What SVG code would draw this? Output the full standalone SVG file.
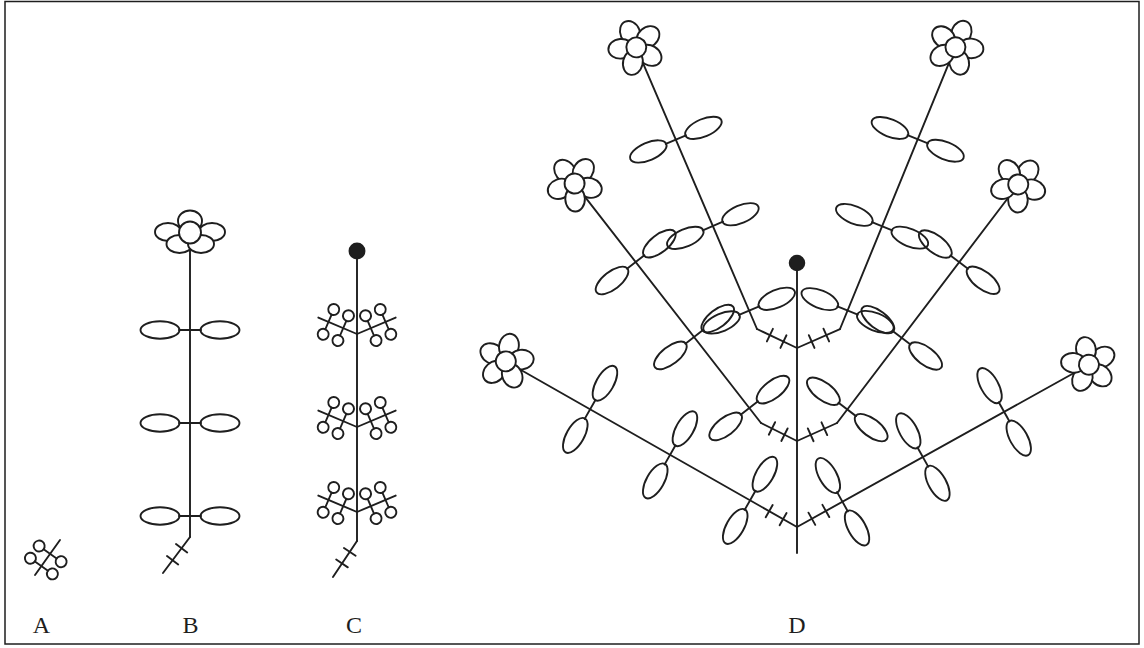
<svg xmlns="http://www.w3.org/2000/svg" xmlns:xlink="http://www.w3.org/1999/xlink" width="1144" height="648" viewBox="0 0 1144 648">
<style>
.ln{fill:none;stroke:#1e1e1e;stroke-width:1.9;stroke-linecap:round;stroke-linejoin:round}
.lb{font-family:"Liberation Serif","DejaVu Serif",serif;font-size:24px;fill:#1e1e1e;text-anchor:middle}
</style>
<defs>
  <g id="lp">
    <line x1="0" y1="-11" x2="0" y2="11"/>
    <ellipse cx="0" cy="-30" rx="8.8" ry="19.5" fill="none"/>
    <ellipse cx="0" cy="30" rx="8.8" ry="19.5" fill="none"/>
  </g>
  <g id="fl">
    <ellipse cx="15.5" cy="0" rx="12.5" ry="9.8" transform="rotate(-90)" fill="#fff"/>
    <ellipse cx="15.5" cy="0" rx="12.5" ry="9.8" transform="rotate(-18)" fill="#fff"/>
    <ellipse cx="15.5" cy="0" rx="12.5" ry="9.8" transform="rotate(198)" fill="#fff"/>
    <ellipse cx="15.5" cy="0" rx="12.5" ry="9.8" transform="rotate(54)" fill="#fff"/>
    <ellipse cx="15.5" cy="0" rx="12.5" ry="9.8" transform="rotate(126)" fill="#fff"/>
    <circle cx="0" cy="0" r="10" fill="#fff"/>
  </g>
  <g id="cp">
    <line x1="0" y1="-8" x2="0" y2="8"/>
    <circle cx="0" cy="-13.5" r="5.5" fill="none"/>
    <circle cx="0" cy="13.5" r="5.5" fill="none"/>
  </g>
  <line id="tk" x1="0" y1="-7" x2="0" y2="7"/>
  <g id="cw">
    <g transform="rotate(203)"><line x1="0" y1="0" x2="42" y2="0"/><use href="#cp" x="15"/><use href="#cp" x="31"/></g>
    <g transform="rotate(-23)"><line x1="0" y1="0" x2="42" y2="0"/><use href="#cp" x="15"/><use href="#cp" x="31"/></g>
  </g>
</defs>

<rect x="5" y="1.5" width="1134" height="642.5" fill="#fff" stroke="#1e1e1e" stroke-width="1.5"/>

<g id="fig-A" class="ln" transform="translate(60,540) rotate(125.5)">
  <line x1="0" y1="0" x2="43" y2="0"/>
  <use href="#cp" x="17"/>
  <use href="#cp" x="32"/>
</g>

<g id="fig-B" class="ln">
  <line x1="190" y1="245" x2="190" y2="537"/>
  <use href="#lp" transform="translate(190,330) rotate(90)"/>
  <use href="#lp" transform="translate(190,423) rotate(90)"/>
  <use href="#lp" transform="translate(190,516) rotate(90)"/>
  <g transform="translate(190,537) rotate(126.9)">
    <line x1="0" y1="0" x2="45" y2="0"/>
    <use href="#tk" x="14"/>
    <use href="#tk" x="29"/>
  </g>
  <g id="B-flower" fill="#fff">
    <ellipse cx="168" cy="232" rx="13" ry="9"/>
    <ellipse cx="212" cy="232" rx="13" ry="9"/>
    <ellipse cx="190" cy="221" rx="12" ry="10.5"/>
    <ellipse cx="179.5" cy="244" rx="13" ry="9"/>
    <ellipse cx="201" cy="244" rx="13" ry="9"/>
    <circle cx="190" cy="232.5" r="11"/>
  </g>
</g>

<g id="fig-C" class="ln">
  <line x1="357" y1="251" x2="357" y2="541"/>
  <circle cx="357" cy="251" r="7.5" fill="#1e1e1e"/>
  <use href="#cw" x="357" y="334"/>
  <use href="#cw" x="357" y="427"/>
  <use href="#cw" x="357" y="512"/>
  <g transform="translate(357,541) rotate(123.7)">
    <line x1="0" y1="0" x2="43.3" y2="0"/>
    <use href="#tk" x="13"/>
    <use href="#tk" x="27"/>
  </g>
</g>

<g id="fig-D" class="ln">
  <g id="D-axis">
    <line x1="797" y1="263" x2="797" y2="553"/>
    <circle cx="797" cy="263" r="7.3" fill="#1e1e1e"/>
  </g>
  <g id="D-top-V">
    <g transform="translate(797,348) rotate(205.4)"><line x1="0" y1="0" x2="44.3" y2="0"/><use href="#tk" x="15"/><use href="#tk" x="30"/></g>
    <g transform="translate(797,348) rotate(-23.8)"><line x1="0" y1="0" x2="47" y2="0"/><use href="#tk" x="16"/><use href="#tk" x="32"/></g>
  </g>
  <g id="D-mid-V">
    <g transform="translate(797,441) rotate(206.6)"><line x1="0" y1="0" x2="40.2" y2="0"/><use href="#tk" x="14"/><use href="#tk" x="28"/></g>
    <g transform="translate(797,441) rotate(-24.2)"><line x1="0" y1="0" x2="43.9" y2="0"/><use href="#tk" x="15"/><use href="#tk" x="30"/></g>
  </g>
  <g id="D-branch-top-left" transform="translate(757,329) rotate(-113.2)">
    <line x1="0" y1="0" x2="289.4" y2="0"/>
    <use href="#lp" x="20"/><use href="#lp" x="112"/><use href="#lp" x="206"/>
    <use href="#fl" transform="translate(306.4,0) rotate(90)"/>
  </g>
  <g id="D-branch-top-right" transform="translate(840,329) rotate(-67.72)">
    <line x1="0" y1="0" x2="287.5" y2="0"/>
    <use href="#lp" x="20"/><use href="#lp" x="111"/><use href="#lp" x="205"/>
    <use href="#fl" transform="translate(304.5,0) rotate(90)"/>
  </g>
  <g id="D-branch-mid-left" transform="translate(761,423) rotate(-127.9)">
    <line x1="0" y1="0" x2="286.5" y2="0"/>
    <use href="#lp" x="19"/><use href="#lp" x="109"/><use href="#lp" x="204"/>
    <use href="#fl" transform="translate(303.5,0) rotate(90)"/>
  </g>
  <g id="D-branch-mid-right" transform="translate(837,423) rotate(-52.77)">
    <line x1="0" y1="0" x2="282.6" y2="0"/>
    <use href="#lp" x="17"/><use href="#lp" x="107"/><use href="#lp" x="202"/>
    <use href="#fl" transform="translate(299.6,0) rotate(90)"/>
  </g>
  <g id="D-branch-low-left" transform="translate(797,527) rotate(-150.37)">
    <line x1="0" y1="0" x2="317.5" y2="0"/>
    <use href="#tk" x="16"/><use href="#tk" x="32"/>
    <use href="#lp" x="54"/><use href="#lp" x="146"/><use href="#lp" x="238"/>
    <use href="#fl" transform="translate(335,0) rotate(90)"/>
  </g>
  <g id="D-branch-low-right" transform="translate(797,527) rotate(-29.07)">
    <line x1="0" y1="0" x2="316.9" y2="0"/>
    <use href="#tk" x="17"/><use href="#tk" x="33"/>
    <use href="#lp" x="52"/><use href="#lp" x="144"/><use href="#lp" x="237"/>
    <use href="#fl" transform="translate(334,0) rotate(90)"/>
  </g>
</g>

<g id="labels" class="lb">
  <text x="41.5" y="633">A</text>
  <text x="190.5" y="633">B</text>
  <text x="354" y="633">C</text>
  <text x="797" y="633">D</text>
</g>
</svg>
